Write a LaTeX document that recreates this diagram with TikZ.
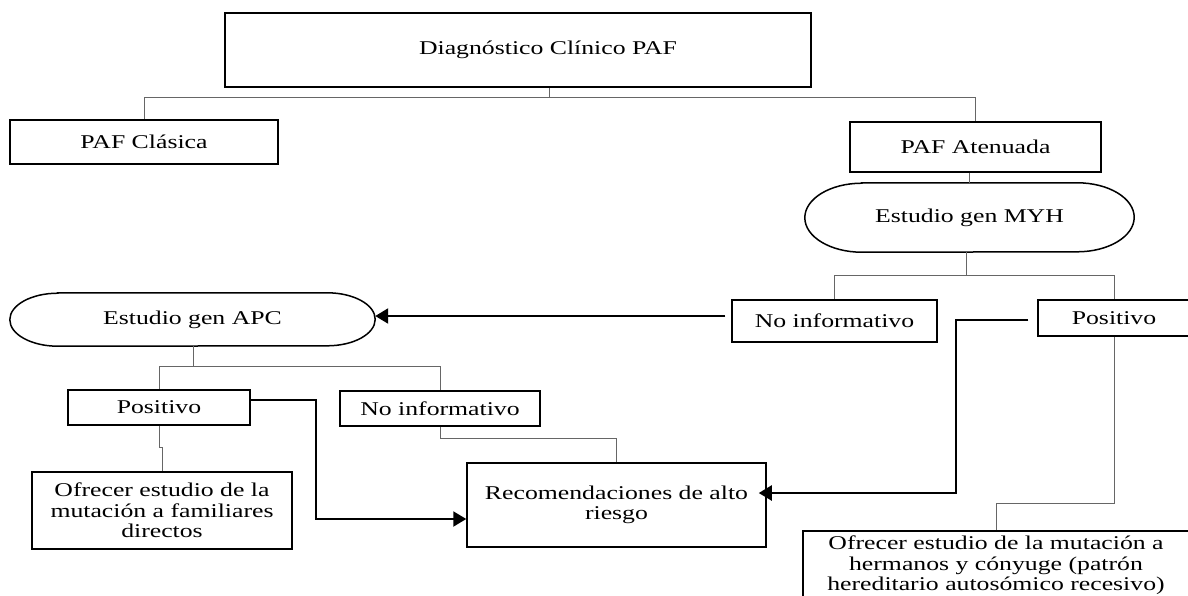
\documentclass[tikz,border=0pt]{standalone}
\usepackage{fontspec}
\setmainfont[FakeStretch=1.32]{Liberation Serif}
\usetikzlibrary{arrows.meta}
\begin{document}
\begin{tikzpicture}[x=1pt,y=-1pt,
  font=\fontsize{19.5}{20.5}\selectfont,
  box/.style={draw=black, line width=1.5pt, inner sep=0pt, align=center},
  pill/.style={inner sep=0pt, align=center},
  pilldraw/.style={draw=black, line width=1.5pt},
  tree/.style={draw=black!60, line width=0.9pt},
  arr/.style={draw=black, line width=2.2pt, -{Triangle[length=13pt,width=15pt]}}]
\useasboundingbox (0,0) rectangle (1188,595);
\fill[white] (0,0) rectangle (1188,595);

% nodes
\node[box, minimum width=586pt, minimum height=74pt] (diag) at (518,50) {\hspace*{60pt}Diagnóstico Clínico PAF};
\node[box, minimum width=268pt, minimum height=44pt] (clasica) at (144,142) {PAF Clásica};
\node[box, minimum width=251pt, minimum height=50pt] (atenuada) at (975.5,147) {PAF Atenuada};
\node[pill, minimum width=329pt, minimum height=69pt] (myh) at (969.5,217.5) {Estudio gen MYH};
\node[pill, minimum width=365pt, minimum height=53pt] (apc) at (192.5,319.5) {Estudio gen APC};
\node[box, minimum width=205pt, minimum height=42pt] (noinfR) at (834.5,321) {No informativo};
\node[box, minimum width=152pt, minimum height=36pt] (posR) at (1114,318) {Positivo};
\node[box, minimum width=182pt, minimum height=35pt] (posL) at (159,407.5) {Positivo};
\node[box, minimum width=200pt, minimum height=35pt] (noinfL) at (440,408.5) {No informativo};
\node[box, minimum width=260pt, minimum height=77pt] (ofrecerL) at (162,510.5) {Ofrecer estudio de la\\mutación a familiares\\directos};
\node[box, minimum width=299pt, minimum height=84pt] (recom) at (616.5,505) {Recomendaciones de alto\\riesgo};
\node[box, anchor=north, minimum width=386pt, minimum height=69pt] (ofrecerR) at (996,530) {Ofrecer estudio de la mutación a\\hermanos y cónyuge (patrón\\hereditario autosómico recesivo)};

% pill outlines
\draw[pilldraw] ([xshift=48pt]apc.north west) -- ([xshift=-48pt]apc.north east)
  arc[start angle=90,end angle=-90,x radius=48pt,y radius=26.5pt]
  -- ([xshift=48pt]apc.south west)
  arc[start angle=-90,end angle=-270,x radius=48pt,y radius=26.5pt] -- cycle;
\draw[pilldraw] ([xshift=57pt]myh.north west) -- ([xshift=-57pt]myh.north east)
  arc[start angle=90,end angle=-90,x radius=57pt,y radius=34.5pt]
  -- ([xshift=57pt]myh.south west)
  arc[start angle=-90,end angle=-270,x radius=57pt,y radius=34.5pt] -- cycle;

% tree connectors
\coordinate (j1) at (549,97);
\draw[tree] (j1 |- diag.south) -- (j1) -| (clasica.north);
\draw[tree] (j1) -| (atenuada.north);
\draw[tree] (atenuada.south -| myh.north) -- (myh.north);
\coordinate (j2) at (966,275);
\draw[tree] (j2 |- myh.south) -- (j2) -| (noinfR.north);
\draw[tree] (j2) -| (posR.north);
\coordinate (j3) at (193,366);
\draw[tree] (j3 |- apc.south) -- (j3) -| (posL.north);
\draw[tree] (j3) -| (noinfL.north);
\draw[tree] (posL.south) -- ++(0,22) -- ++(3,0) -- (ofrecerL.north);
\draw[tree] (noinfL.south) -- ++(0,12) -| (recom.north);
\draw[tree] (posR.south) -- ++(0,167) -| (ofrecerR.north);

% arrows
\coordinate (tR) at (956,0);
\coordinate (aR) at ([xshift=-6pt,yshift=5pt]noinfR.west);
\draw[arr] (aR) -- (aR -| apc.east);
\coordinate (bR) at ([xshift=-9pt,yshift=-2pt]posR.west);
\draw[arr, shorten >=-8pt] (bR) -- (bR -| tR) |- ([yshift=12pt]recom.east);
\draw[arr] ([yshift=7.5pt]posL.east) -- ++(65,0) |- ([yshift=-14pt]recom.west);
\end{tikzpicture}
\end{document}
